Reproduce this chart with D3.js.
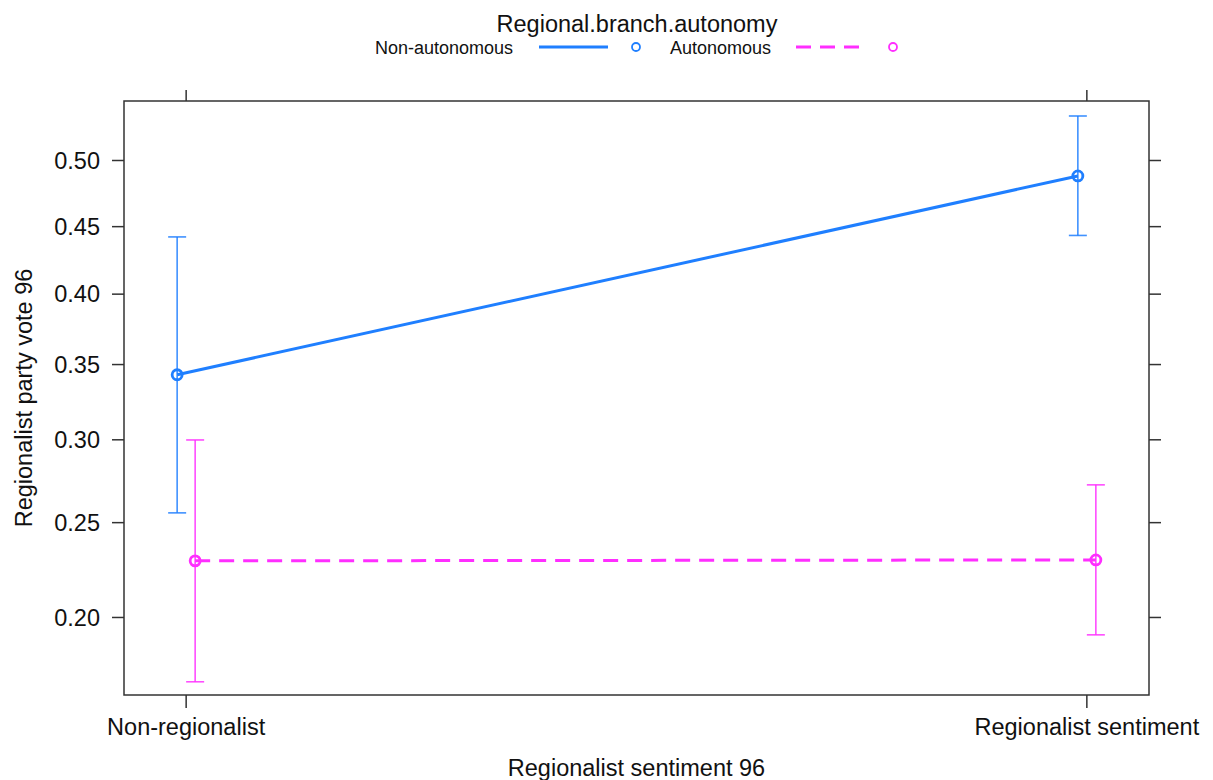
<!DOCTYPE html>
<html><head><meta charset="utf-8">
<script src="https://cdn.jsdelivr.net/npm/d3@7"></script>
<style>body{margin:0;background:#fff}svg text{font-family:"Liberation Sans",Arial,sans-serif;fill:#111}</style>
</head><body>
<svg id="c" width="1213" height="780"></svg>
<script>
const categories = ["Non-regionalist", "Regionalist sentiment"];
const seriesNames = ["Non-autonomous", "Autonomous"];
const fitNonAut = [0.343, 0.4883];
const lowerNonAut = [0.2556, 0.4434];
const upperNonAut = [0.4423, 0.5337];
const fitAut = [0.2289, 0.2294];
const lowerAut = [0.1706, 0.1917];
const upperAut = [0.2999, 0.2721];
const yTicks = [0.20, 0.25, 0.30, 0.35, 0.40, 0.45, 0.50];
const yDomain = [0.165, 0.545];

const series = [
  {name: seriesNames[0], fit: fitNonAut, lo: lowerNonAut, hi: upperNonAut, color: "#1f7fff", dash: null, dx: -9},
  {name: seriesNames[1], fit: fitAut, lo: lowerAut, hi: upperAut, color: "#ff2eff", dash: "15,9", dx: 9}
];

const svg = d3.select("#c");
const L = 124, R = 1149, T = 101, B = 695;
const logit = p => Math.log(p / (1 - p));
const yLin = d3.scaleLinear().domain(yDomain.map(logit)).range([B, T]);
const y = p => yLin(logit(p));
const x = d3.scalePoint().domain(categories).range([L, R]).padding(0.069);

svg.append("rect").attr("x", L).attr("y", T).attr("width", R - L).attr("height", B - T)
  .attr("fill", "none").attr("stroke", "#333").attr("stroke-width", 1.5);

const tg = svg.append("g");
yTicks.forEach(t => {
  tg.append("line").attr("x1", L - 12).attr("x2", L).attr("y1", y(t)).attr("y2", y(t)).attr("stroke", "#333").attr("stroke-width", 1.5);
  tg.append("line").attr("x1", R).attr("x2", R + 12).attr("y1", y(t)).attr("y2", y(t)).attr("stroke", "#333").attr("stroke-width", 1.5);
  tg.append("text").attr("x", 100).attr("y", y(t)).attr("dy", "0.35em").attr("text-anchor", "end")
    .style("font-size", "23.5px").text(d3.format(".2f")(t));
});
categories.forEach(c => {
  tg.append("line").attr("x1", x(c)).attr("x2", x(c)).attr("y1", T - 11).attr("y2", T).attr("stroke", "#333").attr("stroke-width", 1.5);
  tg.append("line").attr("x1", x(c)).attr("x2", x(c)).attr("y1", B).attr("y2", B + 13).attr("stroke", "#333").attr("stroke-width", 1.5);
  tg.append("text").attr("x", x(c)).attr("y", 735).attr("text-anchor", "middle").style("font-size", "23.5px").text(c);
});

svg.append("text").attr("x", (L + R) / 2).attr("y", 776).attr("text-anchor", "middle").style("font-size", "23.5px").text("Regionalist sentiment 96");
svg.append("text").attr("transform", `translate(32,${(T + B) / 2}) rotate(-90)`).attr("text-anchor", "middle").style("font-size", "23.5px").text("Regionalist party vote 96");

series.forEach(s => {
  const g = svg.append("g");
  const px = i => x(categories[i]) + s.dx;
  const line = d3.line().x((d, i) => px(i)).y(d => y(d));
  g.append("path").attr("d", line(s.fit)).attr("fill", "none").attr("stroke", s.color)
    .attr("stroke-width", 3).attr("stroke-dasharray", s.dash);
  s.fit.forEach((f, i) => {
    const cx = px(i);
    g.append("line").attr("x1", cx).attr("x2", cx).attr("y1", y(s.lo[i])).attr("y2", y(s.hi[i]))
      .attr("stroke", s.color).attr("stroke-width", 1.6).attr("opacity", 0.85);
    [s.lo[i], s.hi[i]].forEach(v => {
      g.append("line").attr("x1", cx - 9).attr("x2", cx + 9).attr("y1", y(v)).attr("y2", y(v))
        .attr("stroke", s.color).attr("stroke-width", 1.6).attr("opacity", 0.85);
    });
    g.append("circle").attr("cx", cx).attr("cy", y(f)).attr("r", 5).attr("fill", "none")
      .attr("stroke", s.color).attr("stroke-width", 2.8);
  });
});

svg.append("text").attr("x", 637).attr("y", 32).attr("text-anchor", "middle").style("font-size", "23.5px").text("Regional.branch.autonomy");
const legPos = [{tx: 375, l1: 539, l2: 608, cx: 636}, {tx: 670, l1: 796, l2: 859, cx: 893}];
series.forEach((s, i) => {
  const p = legPos[i];
  svg.append("text").attr("x", p.tx).attr("y", 48).attr("dy", "0.35em").style("font-size", "18px").text(s.name);
  svg.append("line").attr("x1", p.l1).attr("x2", p.l2).attr("y1", 47).attr("y2", 47).attr("stroke", s.color)
    .attr("stroke-width", 3).attr("stroke-dasharray", s.dash);
  svg.append("circle").attr("cx", p.cx).attr("cy", 47).attr("r", 4).attr("fill", "none").attr("stroke", s.color).attr("stroke-width", 1.8);
});
</script>
</body></html>
